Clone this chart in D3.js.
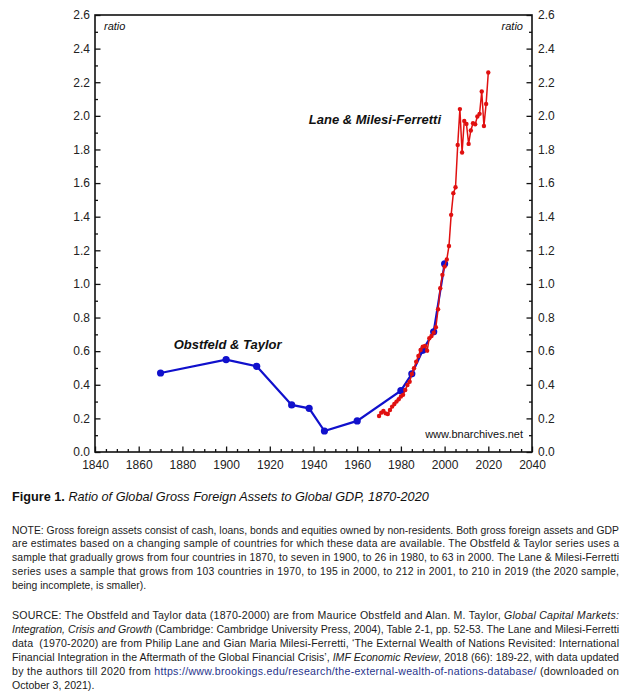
<!DOCTYPE html>
<html>
<head>
<meta charset="utf-8">
<script src="https://cdn.jsdelivr.net/npm/d3@7"></script>
<style>
  body { margin: 0; background: #fff; }
  svg { display: block; font-family: "Liberation Sans", Arial, sans-serif; }
</style>
</head>
<body>
<svg id="chart" width="634" height="700"></svg>
<script>
// Obstfeld & Taylor series
const otYears = [1870, 1900, 1914, 1930, 1938, 1945, 1960, 1980, 1985, 1990, 1995, 2000];
const otValues = [0.47, 0.55, 0.51, 0.28, 0.26, 0.125, 0.185, 0.365, 0.465, 0.605, 0.715, 1.12];

// Lane & Milesi-Ferretti series
const lmYears = [1970, 1971, 1972, 1973, 1974, 1975, 1976, 1977, 1978, 1979,
  1980, 1981, 1982, 1983, 1984, 1985, 1986, 1987, 1988, 1989,
  1990, 1991, 1992, 1993, 1994, 1995, 1996, 1997, 1998, 1999,
  2000, 2001, 2002, 2003, 2004, 2005, 2006, 2007, 2008, 2009,
  2010, 2011, 2012, 2013, 2014, 2015, 2016, 2017, 2018, 2019, 2020];
const lmValues = [0.214, 0.234, 0.244, 0.230, 0.226, 0.250, 0.270, 0.286, 0.300, 0.314,
  0.330, 0.340, 0.369, 0.399, 0.418, 0.464, 0.498, 0.537, 0.571, 0.607,
  0.627, 0.631, 0.603, 0.677, 0.690, 0.710, 0.742, 0.849, 0.974, 1.054,
  1.103, 1.145, 1.226, 1.411, 1.540, 1.575, 1.827, 2.040, 1.782, 1.970,
  1.952, 1.833, 1.913, 1.956, 1.950, 1.996, 2.012, 2.145, 1.940, 2.071, 2.258];

// ticks
const xMajorTicks = [1840, 1860, 1880, 1900, 1920, 1940, 1960, 1980, 2000, 2020, 2040];
const xMinorTicks = [1845, 1850, 1855, 1865, 1870, 1875, 1885, 1890, 1895, 1905, 1910, 1915,
  1925, 1930, 1935, 1945, 1950, 1955, 1965, 1970, 1975, 1985, 1990, 1995, 2005, 2010, 2015,
  2025, 2030, 2035];
const yMajorTicks = [0, 0.2, 0.4, 0.6, 0.8, 1.0, 1.2, 1.4, 1.6, 1.8, 2.0, 2.2, 2.4, 2.6];
const yMinorTicks = [0.1, 0.3, 0.5, 0.7, 0.9, 1.1, 1.3, 1.5, 1.7, 1.9, 2.1, 2.3, 2.5];

// texts below the chart
const captionBold = "Figure 1. ";
const captionItalic = "Ratio of Global Gross Foreign Assets to Global GDP, 1870-2020";

const noteLines = [
  [["NOTE: Gross foreign assets consist of cash, loans, bonds and equities owned by non-residents. Both gross foreign assets and GDP"]],
  [["are estimates based on a changing sample of countries for which these data are available. The Obstfeld & Taylor series uses a"]],
  [["sample that gradually grows from four countries in 1870, to seven in 1900, to 26 in 1980, to 63 in 2000. The Lane & Milesi-Ferretti"]],
  [["series uses a sample that grows from 103 countries in 1970, to 195 in 2000, to 212 in 2001, to 210 in 2019 (the 2020 sample,"]],
  [["being incomplete, is smaller)."]]
];

const sourceLines = [
  [["SOURCE: The Obstfeld and Taylor data (1870-2000) are from Maurice Obstfeld and Alan. M. Taylor, "], ["Global Capital Markets:", "i"]],
  [["Integration, Crisis and Growth", "i"], [" (Cambridge: Cambridge University Press, 2004), Table 2-1, pp. 52-53. The Lane and Milesi-Ferretti"]],
  [["data  (1970-2020) are from Philip Lane and Gian Maria Milesi-Ferretti, \u2018The External Wealth of Nations Revisited: International"]],
  [["Financial Integration in the Aftermath of the Global Financial Crisis\u2019, "], ["IMF Economic Review", "i"], [", 2018 (66): 189-22, with data updated"]],
  [["by the authors till 2020 from "], ["https://www.brookings.edu/research/the-external-wealth-of-nations-database/", "a"], [" (downloaded on"]],
  [["October 3, 2021)."]]
];

const svg = d3.select("#chart");

const margin = { left: 95, right: 102, top: 15, bottom: 248 };
const width = 634 - margin.left - margin.right;
const height = 700 - margin.top - margin.bottom;

const x = d3.scaleLinear().domain([1840, 2040]).range([0, width]);
const y = d3.scaleLinear().domain([0, 2.6]).range([height, 0]);

const g = svg.append("g").attr("transform", `translate(${margin.left},${margin.top})`);

// Axes (ticks point inward)
function styleAxis(sel) {
  sel.select(".domain").remove();
  sel.selectAll("line").attr("stroke", "#111").attr("stroke-width", 1.3);
  sel.selectAll("text").attr("fill", "#222").style("font-size", "12px");
}

g.append("g").attr("transform", `translate(0,${height})`)
  .call(d3.axisBottom(x).tickValues(xMinorTicks).tickSize(-3).tickFormat(""))
  .call(styleAxis);
g.append("g").attr("transform", `translate(0,${height})`)
  .call(d3.axisBottom(x).tickValues(xMajorTicks).tickSize(-5.5).tickPadding(8).tickFormat(d3.format("d")))
  .call(styleAxis);

g.append("g")
  .call(d3.axisLeft(y).tickValues(yMinorTicks).tickSize(-3).tickFormat(""))
  .call(styleAxis);
g.append("g")
  .call(d3.axisLeft(y).tickValues(yMajorTicks).tickSize(-5.5).tickPadding(5).tickFormat(d3.format(".1f")))
  .call(styleAxis);

g.append("g").attr("transform", `translate(${width},0)`)
  .call(d3.axisRight(y).tickValues(yMinorTicks).tickSize(-3).tickFormat(""))
  .call(styleAxis);
g.append("g").attr("transform", `translate(${width},0)`)
  .call(d3.axisRight(y).tickValues(yMajorTicks).tickSize(-5.5).tickPadding(6).tickFormat(d3.format(".1f")))
  .call(styleAxis);

// Frame
g.append("rect")
  .attr("width", width)
  .attr("height", height)
  .attr("fill", "none")
  .attr("stroke", "#111")
  .attr("stroke-width", 1.6);

// Series
const otData = otYears.map((yr, i) => ({ year: yr, value: otValues[i] }));
const lmData = lmYears.map((yr, i) => ({ year: yr, value: lmValues[i] }));

const line = d3.line().x(d => x(d.year)).y(d => y(d.value));

g.append("path")
  .datum(otData)
  .attr("fill", "none")
  .attr("stroke", "#1010cc")
  .attr("stroke-width", 2.2)
  .attr("d", line);

g.selectAll(".ot-dot")
  .data(otData)
  .join("circle")
    .attr("class", "ot-dot")
    .attr("cx", d => x(d.year))
    .attr("cy", d => y(d.value))
    .attr("r", 3.6)
    .attr("fill", "#1010cc");

g.append("path")
  .datum(lmData)
  .attr("fill", "none")
  .attr("stroke", "#e01010")
  .attr("stroke-width", 1.5)
  .attr("d", line);

g.selectAll(".lm-dot")
  .data(lmData)
  .join("circle")
    .attr("class", "lm-dot")
    .attr("cx", d => x(d.year))
    .attr("cy", d => y(d.value))
    .attr("r", 2.2)
    .attr("fill", "#e01010");

// Labels inside the plot
g.append("text")
  .attr("x", 9).attr("y", 15)
  .style("font-size", "11px").style("font-style", "italic")
  .attr("fill", "#111")
  .text("ratio");
g.append("text")
  .attr("x", width - 9).attr("y", 15)
  .attr("text-anchor", "end")
  .style("font-size", "11px").style("font-style", "italic")
  .attr("fill", "#111")
  .text("ratio");

g.append("text")
  .attr("x", width - 9).attr("y", 423)
  .attr("text-anchor", "end")
  .style("font-size", "11px")
  .attr("fill", "#111")
  .text("www.bnarchives.net");

g.append("text")
  .attr("x", x(1876)).attr("y", 334)
  .style("font-size", "13px").style("font-style", "italic").style("font-weight", "bold")
  .attr("fill", "#111")
  .text("Obstfeld & Taylor");

g.append("text")
  .attr("x", 346).attr("y", 109)
  .attr("text-anchor", "end")
  .style("font-size", "13px").style("font-style", "italic").style("font-weight", "bold")
  .attr("fill", "#111")
  .text("Lane & Milesi-Ferretti");

// Caption, sized to span the same width as in the figure
const cap = svg.append("text")
  .attr("x", 12).attr("y", 500.5)
  .style("font-size", "14px")
  .attr("fill", "#111");
cap.append("tspan").style("font-weight", "bold").text(captionBold);
cap.append("tspan").style("font-style", "italic").text(captionItalic);
const capWidth = cap.node().getComputedTextLength();
cap.style("font-size", (14 * 417 / capWidth) + "px");

// Paragraphs: font size fitted so the widest line fills the text block, then justified
const textLeft = 12;
const textWidth = 607;

function drawParagraph(lines, top, step) {
  const nodes = lines.map((parts, i) => {
    const t = svg.append("text")
      .attr("x", textLeft)
      .attr("y", top + i * step)
      .style("font-size", "10px")
      .attr("fill", "#1a1a1a")
      .style("white-space", "pre");
    parts.forEach(([s, kind]) => {
      const ts = t.append("tspan").text(s);
      if (kind === "i") ts.style("font-style", "italic");
      if (kind === "a") ts.attr("fill", "#27348b");
    });
    return t;
  });
  const widest = d3.max(nodes.slice(0, -1), t => t.node().getComputedTextLength());
  const size = Math.min(10.6, 10 * (textWidth - 1) / widest);
  nodes.forEach(t => t.style("font-size", size + "px"));
  nodes.slice(0, -1).forEach(t => {
    t.attr("textLength", textWidth).attr("lengthAdjust", "spacing");
  });
}

drawParagraph(noteLines, 533.5, 13.85);
drawParagraph(sourceLines, 618.5, 14);
</script>
</body>
</html>
